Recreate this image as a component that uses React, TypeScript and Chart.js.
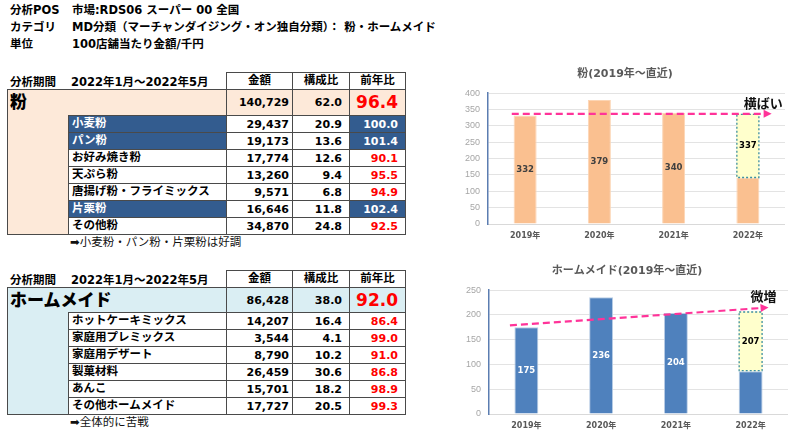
import React, { useEffect, useRef } from "react";
import { Chart, registerables } from "chart.js";

Chart.register(...registerables);

// ---------------- data ----------------
const years = ["2019年", "2020年", "2021年", "2022年"];

const funYearValues = [332, 379, 340, 337]; // 2022 = 見込み
const funYtd2022 = 140.7;
const funTrend = [337, 337];

const homeYearValues = [175, 236, 204, 207];
const homeYtd2022 = 86.4;
const homeTrend = [179, 215];

const funItems = ["小麦粉", "パン粉", "お好み焼き粉", "天ぷら粉", "唐揚げ粉・フライミックス", "片栗粉", "その他粉"];
const funAmounts = ["29,437", "19,173", "17,774", "13,260", "9,571", "16,646", "34,870"];
const funShares = ["20.9", "13.6", "12.6", "9.4", "6.8", "11.8", "24.8"];
const funYoy = ["100.0", "101.4", "90.1", "95.5", "94.9", "102.4", "92.5"];
const funHighlight = [true, true, false, false, false, true, false];

const homeItems = ["ホットケーキミックス", "家庭用プレミックス", "家庭用デザート", "製菓材料", "あんこ", "その他ホームメイド"];
const homeAmounts = ["14,207", "3,544", "8,790", "26,459", "15,701", "17,727"];
const homeShares = ["16.4", "4.1", "10.2", "30.6", "18.2", "20.5"];
const homeYoy = ["86.4", "99.0", "91.0", "86.8", "98.9", "99.3"];
const homeHighlight = [false, false, false, false, false, false];

// ---------------- styles ----------------
const FONT = '"DejaVu Sans", "Noto Sans CJK JP", sans-serif';
const JP = '"Noto Sans CJK JP", sans-serif';
const BORDER = "#4a4a4a";
const BLUE = "#335C8F";

const overlayPlugin = {
  id: "overlay",
  afterDatasetsDraw(chart: any, _args: any, opts: any) {
    const { ctx } = chart;
    const x = chart.scales.x;
    const y = chart.scales.y;
    const m0 = chart.getDatasetMeta(0);
    const m1 = chart.getDatasetMeta(1);
    const last = opts.values.length - 1;
    const fe = m1.data[last];
    ctx.save();
    // dashed box around the forecast part
    const left = fe.x - fe.width / 2;
    ctx.setLineDash([2, 2]);
    ctx.lineWidth = 1.3;
    ctx.strokeStyle = "#3D8FA3";
    ctx.strokeRect(left + 0.5, fe.y + 0.5, fe.width - 1, fe.base - fe.y - 1);
    ctx.setLineDash([]);
    // value labels
    ctx.font = "bold 8.5px " + FONT;
    ctx.textAlign = "center";
    ctx.textBaseline = "middle";
    opts.values.forEach((v: number, i: number) => {
      let cy: number;
      if (i === last) {
        cy = (fe.y + fe.base) / 2;
        ctx.fillStyle = "#000000";
      } else {
        const e = m0.data[i];
        cy = (e.y + e.base) / 2;
        ctx.fillStyle = opts.labelColor;
      }
      ctx.fillText(String(v), x.getPixelForValue(i), cy);
    });
    // trend arrow
    const x0 = x.getPixelForValue(opts.trendFrom);
    const x1 = x.getPixelForValue(opts.trendTo);
    const y0 = y.getPixelForValue(opts.trend[0]);
    const y1 = y.getPixelForValue(opts.trend[1]);
    const ang = Math.atan2(y1 - y0, x1 - x0);
    const head = 8;
    const ex = x1 - Math.cos(ang) * head;
    const ey = y1 - Math.sin(ang) * head;
    ctx.strokeStyle = "#FF3399";
    ctx.fillStyle = "#FF3399";
    ctx.lineWidth = 2.2;
    ctx.setLineDash([7, 4]);
    ctx.beginPath();
    ctx.moveTo(x0, y0);
    ctx.lineTo(ex, ey);
    ctx.stroke();
    ctx.setLineDash([]);
    ctx.beginPath();
    ctx.moveTo(x1, y1);
    ctx.lineTo(ex - Math.sin(ang) * 4, ey + Math.cos(ang) * 4);
    ctx.lineTo(ex + Math.sin(ang) * 4, ey - Math.cos(ang) * 4);
    ctx.closePath();
    ctx.fill();
    // callout text
    ctx.fillStyle = "#111111";
    ctx.font = "bold 13px " + JP;
    ctx.textAlign = "right";
    ctx.textBaseline = "middle";
    ctx.fillText(opts.callout, x1 + opts.calloutDx, y1 - 11);
    ctx.restore();
  },
};

type BarChartProps = {
  left: number;
  top: number;
  width: number;
  height: number;
  title: string;
  values: number[];
  ytd: number;
  trend: number[];
  max: number;
  color: string;
  edge: string;
  labelColor: string;
  callout: string;
  calloutDx: number;
  padLeft: number;
  titleTop: number;
  titleBottom: number;
  bottomPad: number;
  barPct: number;
  trendFrom: number;
  trendTo: number;
};

function BarChart(p: BarChartProps) {
  const ref = useRef<HTMLCanvasElement | null>(null);
  useEffect(() => {
    if (!ref.current) return;
    const n = p.values.length;
    const actual = p.values.map((v, i) => (i === n - 1 ? p.ytd : v));
    const forecast = p.values.map((v, i) => (i === n - 1 ? [p.ytd, v] : null));
    const chart = new Chart(ref.current, {
      type: "bar",
      data: {
        labels: years,
        datasets: [
          {
            data: actual,
            backgroundColor: p.color,
            borderColor: p.edge,
            borderWidth: 1,
            grouped: false,
            barPercentage: p.barPct,
            categoryPercentage: 1,
          } as any,
          {
            data: forecast,
            backgroundColor: "#FFFFCC",
            borderWidth: 0,
            grouped: false,
            barPercentage: p.barPct,
            categoryPercentage: 1,
          } as any,
        ],
      },
      options: {
        responsive: false,
        animation: false,
        layout: { padding: { left: p.padLeft, right: 0, top: 0, bottom: p.bottomPad } },
        plugins: {
          legend: { display: false },
          tooltip: { enabled: false },
          title: {
            display: true,
            text: p.title,
            color: "#595959",
            font: { size: 11, weight: "bold", family: FONT },
            padding: { top: p.titleTop, bottom: p.titleBottom },
          },
          overlay: {
            values: p.values,
            labelColor: p.labelColor,
            trend: p.trend,
            trendFrom: p.trendFrom,
            trendTo: p.trendTo,
            callout: p.callout,
            calloutDx: p.calloutDx,
          },
        } as any,
        scales: {
          x: {
            grid: { display: false, drawTicks: false },
            border: { color: "#D9D9D9", width: 1 },
            ticks: { color: "#595959", font: { size: 8, weight: "bold", family: FONT }, padding: 7 },
            afterFit: (s: any) => {
              s.height = 20;
            },
          },
          y: {
            min: 0,
            max: p.max,
            ticks: { stepSize: 50, color: "#A6A6A6", font: { size: 9, family: "Liberation Sans" }, padding: 8 },
            grid: { color: "#E3E3E3", drawTicks: false },
            border: { color: "#5B7DB1", width: 1.5 },
            afterFit: (s: any) => {
              s.width = 23;
            },
          },
        },
      },
      plugins: [overlayPlugin],
    });
    return () => chart.destroy();
  }, []);
  return (
    <canvas
      ref={ref}
      width={p.width}
      height={p.height}
      style={{ position: "absolute", left: p.left, top: p.top, width: p.width, height: p.height }}
    />
  );
}

type TableProps = {
  top: number;
  headerH: number;
  mainH: number;
  bg: string;
  name: string;
  total: string;
  totalShare: string;
  totalYoy: string;
  items: string[];
  amounts: string[];
  shares: string[];
  yoy: string[];
  highlight: boolean[];
  note: string;
};

const X0 = 7, XL = 68, XA = 226, XS = 292, XY = 349, XR = 405;
const ROW = 17;

function Cell(props: {
  l: number;
  r: number;
  t: number;
  h: number;
  bg?: string;
  color?: string;
  align?: "left" | "right" | "center";
  pr?: number;
  size?: number;
  children?: any;
}) {
  const justify = props.align === "left" ? "flex-start" : props.align === "center" ? "center" : "flex-end";
  return (
    <div
      style={{
        position: "absolute",
        left: props.l,
        top: props.t,
        width: props.r - props.l + 1,
        height: props.h + 1,
        boxSizing: "border-box",
        border: `1px solid ${BORDER}`,
        background: props.bg || "#ffffff",
        color: props.color || "#000000",
        display: "flex",
        alignItems: "center",
        justifyContent: justify,
        paddingRight: props.pr ?? 0,
        paddingLeft: props.align === "left" ? 3 : 0,
        fontWeight: "bold",
        fontSize: props.size || 11,
        fontFamily: FONT,
        whiteSpace: "nowrap",
        lineHeight: 1,
      }}
    >
      {props.children}
    </div>
  );
}

function SalesTable(p: TableProps) {
  const hTop = p.top;
  const mTop = hTop + p.headerH;
  const sTop = mTop + p.mainH;
  const bottom = sTop + ROW * p.items.length;
  return (
    <>
      <div
        style={{
          position: "absolute",
          left: 10,
          top: hTop,
          height: p.headerH,
          display: "flex",
          alignItems: "center",
          fontFamily: FONT,
          fontWeight: "bold",
          fontSize: 11.5,
          whiteSpace: "nowrap",
        }}
      >
        <span style={{ width: 61, display: "inline-block" }}>分析期間</span>
        <span>2022年1月～2022年5月</span>
      </div>
      <Cell l={XA} r={XS} t={hTop} h={p.headerH} align="center" size={11.5}>金額</Cell>
      <Cell l={XS} r={XY} t={hTop} h={p.headerH} align="center" size={11.5}>構成比</Cell>
      <Cell l={XY} r={XR} t={hTop} h={p.headerH} align="center" size={11.5}>前年比</Cell>

      <div
        style={{
          position: "absolute",
          left: X0,
          top: mTop,
          width: XR - X0 + 1,
          height: p.mainH + 1,
          boxSizing: "border-box",
          border: `1px solid ${BORDER}`,
          background: p.bg,
        }}
      />
      <div
        style={{
          position: "absolute",
          left: X0,
          top: sTop,
          width: XL - X0 + 1,
          height: bottom - sTop + 1,
          boxSizing: "border-box",
          borderLeft: `1px solid ${BORDER}`,
          borderBottom: `1px solid ${BORDER}`,
          background: p.bg,
        }}
      />
      <div
        style={{
          position: "absolute",
          left: 10,
          top: mTop + 1,
          fontFamily: JP,
          fontWeight: 900,
          fontSize: 17,
          lineHeight: "21px",
          whiteSpace: "nowrap",
        }}
      >
        {p.name}
      </div>
      <Cell l={XA} r={XS} t={mTop} h={p.mainH} bg={p.bg} pr={3}>{p.total}</Cell>
      <Cell l={XS} r={XY} t={mTop} h={p.mainH} bg={p.bg} pr={7}>{p.totalShare}</Cell>
      <Cell l={XY} r={XR} t={mTop} h={p.mainH} bg={p.bg} pr={7} size={17} color="#FF0000">{p.totalYoy}</Cell>

      {p.items.map((it, i) => {
        const t = sTop + i * ROW;
        const hl = p.highlight[i];
        return (
          <React.Fragment key={it}>
            <Cell l={XL} r={XA} t={t} h={ROW} align="left" bg={hl ? BLUE : "#fff"} color={hl ? "#fff" : "#000"} size={11.5}>
              {it}
            </Cell>
            <Cell l={XA} r={XS} t={t} h={ROW} pr={3}>{p.amounts[i]}</Cell>
            <Cell l={XS} r={XY} t={t} h={ROW} pr={7}>{p.shares[i]}</Cell>
            <Cell l={XY} r={XR} t={t} h={ROW} pr={7} bg={hl ? BLUE : "#fff"} color={hl ? "#fff" : "#FF0000"}>
              {p.yoy[i]}
            </Cell>
          </React.Fragment>
        );
      })}
      <div
        style={{
          position: "absolute",
          left: 70,
          top: bottom + 1,
          fontFamily: FONT,
          fontSize: 11.5,
          lineHeight: "14px",
          whiteSpace: "nowrap",
          color: "#111",
        }}
      >
        {p.note}
      </div>
    </>
  );
}

export default function App() {
  const topLine = (t: number, a: string, b: string) => (
    <div
      style={{
        position: "absolute",
        left: 10,
        top: t,
        fontFamily: FONT,
        fontWeight: "bold",
        fontSize: 11.5,
        lineHeight: "17px",
        whiteSpace: "nowrap",
      }}
    >
      <span style={{ display: "inline-block", width: 62 }}>{a}</span>
      <span>{b}</span>
    </div>
  );
  return (
    <div
      style={{
        position: "absolute",
        left: 0,
        top: 0,
        width: 800,
        height: 442,
        background: "#ffffff",
        overflow: "hidden",
      }}
    >
      {topLine(2, "分析POS", "市場:RDS06 スーパー 00 全国")}
      {topLine(19, "カテゴリ", "MD分類（マーチャンダイジング・オン独自分類）：  粉・ホームメイド")}
      {topLine(36, "単位", "100店舗当たり金額/千円")}

      <SalesTable
        top={72}
        headerH={17}
        mainH={26}
        bg="#FDE9D9"
        name="粉"
        total="140,729"
        totalShare="62.0"
        totalYoy="96.4"
        items={funItems}
        amounts={funAmounts}
        shares={funShares}
        yoy={funYoy}
        highlight={funHighlight}
        note="➡小麦粉・パン粉・片栗粉は好調"
      />
      <SalesTable
        top={270}
        headerH={17}
        mainH={25}
        bg="#DAEEF3"
        name="ホームメイド"
        total="86,428"
        totalShare="38.0"
        totalYoy="92.0"
        items={homeItems}
        amounts={homeAmounts}
        shares={homeShares}
        yoy={homeYoy}
        highlight={homeHighlight}
        note="➡全体的に苦戦"
      />

      <BarChart
        left={440}
        top={60}
        width={345}
        height={190}
        title="粉(2019年～直近)"
        values={funYearValues}
        ytd={funYtd2022}
        trend={funTrend}
        max={400}
        color="#FAC090"
        edge="#FCD5B4"
        labelColor="#404040"
        callout="横ばい"
        calloutDx={11}
        padLeft={25}
        titleTop={8}
        titleBottom={12}
        bottomPad={6}
        barPct={0.31}
        trendFrom={-0.18}
        trendTo={3.32}
      />
      <BarChart
        left={440}
        top={260}
        width={348}
        height={182}
        title="ホームメイド(2019年～直近)"
        values={homeYearValues}
        ytd={homeYtd2022}
        trend={homeTrend}
        max={250}
        color="#4F81BD"
        edge="#B9CDE5"
        labelColor="#FFFFFF"
        callout="微増"
        calloutDx={8}
        padLeft={26}
        titleTop={5}
        titleBottom={12}
        bottomPad={8}
        barPct={0.32}
        trendFrom={-0.22}
        trendTo={3.24}
      />
    </div>
  );
}
